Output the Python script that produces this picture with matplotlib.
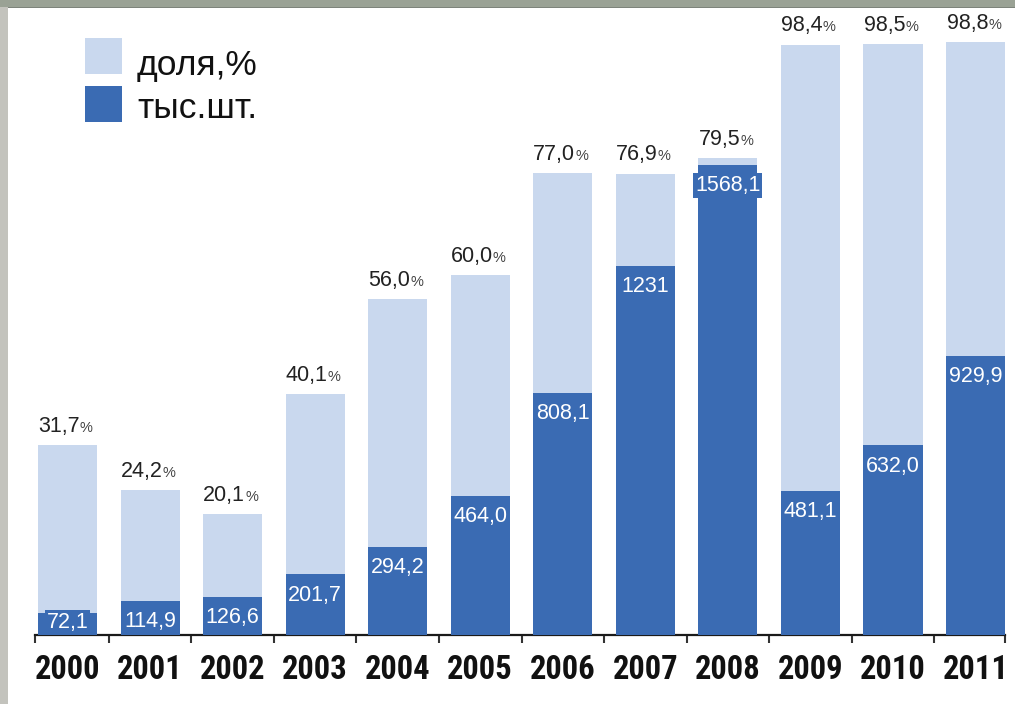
import matplotlib
matplotlib.use("Agg")
import matplotlib.pyplot as plt
from matplotlib import font_manager
from matplotlib.patches import Rectangle

# --- data -------------------------------------------------------------
years = ["2000", "2001", "2002", "2003", "2004", "2005",
         "2006", "2007", "2008", "2009", "2010", "2011"]
share_pct = [31.7, 24.2, 20.1, 40.1, 56.0, 60.0, 77.0, 76.9, 79.5, 98.4, 98.5, 98.8]
units_k = [72.1, 114.9, 126.6, 201.7, 294.2, 464.0, 808.1, 1231, 1568.1, 481.1, 632.0, 929.9]
legend_labels = ["доля,%", "тыс.шт."]

LIGHT = "#c9d8ee"
DARK = "#3a6bb3"


def pick_font(candidates):
    for name in candidates:
        try:
            font_manager.findfont(font_manager.FontProperties(family=name),
                                  fallback_to_default=False)
            return name
        except Exception:
            continue
    return "DejaVu Sans"


BASE_FONT = pick_font(["Liberation Sans", "Arial", "DejaVu Sans"])
NARROW_FONT = pick_font(["Liberation Sans Narrow", "Arial Narrow", "Roboto Condensed",
                         "DejaVu Sans Condensed", "Liberation Sans"])
plt.rcParams["font.family"] = [BASE_FONT, "DejaVu Sans"]

W, H = 1015, 704
fig = plt.figure(figsize=(W / 100, H / 100), dpi=100)
fig.patch.set_facecolor("white")


def px_rect(x, y, w, h, color, z=0):
    """Rectangle given in pixel units measured from the top-left corner."""
    fig.add_artist(Rectangle((x / W, 1 - (y + h) / H), w / W, h / H,
                             transform=fig.transFigure, facecolor=color,
                             edgecolor="none", zorder=z))


# photo frame strips along top and left edges
px_rect(0, 0, 8, H, "#c3c3bd")
px_rect(0, 0, W, 7, "#9aa295")
px_rect(8, 7, W, 1.2, "#7d847b")

# axes geometry: baseline at y=635px, 6px per percent, bar pitch ~82.5px
x0_px, x1_px = 35, 1005
base_px, top_px = 635, 35
centre0, pitch = 67.5, 82.55
ax = fig.add_axes([x0_px / W, (H - base_px) / H, (x1_px - x0_px) / W, (base_px - top_px) / H])
ax.patch.set_alpha(0)
xmin = (x0_px - centre0) / pitch
xmax = (x1_px - centre0) / pitch
ax.set_xlim(xmin, xmax)
ax.set_ylim(0, 100)

xs = list(range(len(years)))
bar_w = 0.715
light = ax.bar(xs, share_pct, width=bar_w, color=LIGHT, edgecolor="none", zorder=2)

ax2 = ax.twinx()
ax2.set_ylim(0, 2000)
dark = ax2.bar(xs, units_k, width=bar_w, color=DARK, edgecolor="none", zorder=2)

for a in (ax, ax2):
    for s in ("left", "right", "top"):
        a.spines[s].set_visible(False)
    a.set_yticks([])
ax2.spines["bottom"].set_visible(False)
ax.spines["bottom"].set_color("#1a1a1a")
ax.spines["bottom"].set_linewidth(1.6)

# boundary ticks (major) and year labels (minor, centred on bars)
bounds = [xmin] + [i + 0.5 for i in range(len(years) - 1)] + [xmax]
ax.set_xticks(bounds)
ax.set_xticklabels([])
ax.tick_params(axis="x", which="major", direction="out", length=6, width=1.5,
               color="#333333")
ax.set_xticks(xs, minor=True)
ax.set_xticklabels(years, minor=True, fontfamily=NARROW_FONT, fontweight="bold",
                   fontsize=23.5, color="#111111")
ax.tick_params(axis="x", which="minor", length=0, pad=14)

# share labels above light bars
for x, v in zip(xs, share_pct):
    num = f"{v:.1f}".replace(".", ",")
    ax.annotate(num, (x, v), xytext=(9, 9.5), textcoords="offset points",
                ha="right", va="baseline", fontsize=15.5, color="#222222")
    ax.annotate("%", (x, v), xytext=(9, 9.5), textcoords="offset points",
                ha="left", va="baseline", fontsize=10.5, color="#444444")

# unit labels inside dark bars
for x, v in zip(xs, units_k):
    if v >= 1000 and float(v).is_integer():
        txt = f"{int(v)}"
    else:
        txt = f"{v:.1f}".replace(".", ",")
    ax2.annotate(txt, (x, max(v, 112)), xytext=(0, -7.5), textcoords="offset points",
                 ha="center", va="top", fontsize=15.5, color="white", zorder=4,
                 bbox=dict(boxstyle="square,pad=0.08", facecolor=DARK, edgecolor="none"))

# legend: colour squares with captions
legend_rows = [(light, 38, 75), (dark, 86, 118)]
for (bars, sq_top, base_y), label in zip(legend_rows, legend_labels):
    px_rect(85, sq_top, 37, 36, bars.patches[0].get_facecolor(), z=3)
    fig.text(137 / W, 1 - base_y / H, label, ha="left", va="baseline",
             fontsize=25.5, color="#111111")

fig.savefig("out.png", dpi=100, facecolor=fig.get_facecolor())
